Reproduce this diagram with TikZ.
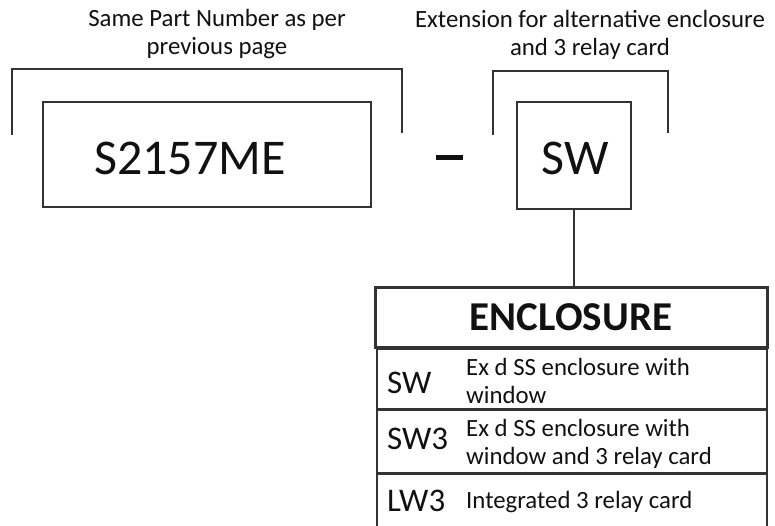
\documentclass[tikz,border=0pt]{standalone}
\usepackage{fontspec}
\setmainfont{Carlito}
\definecolor{ink}{HTML}{111111}
\definecolor{edge}{HTML}{333333}
\begin{document}
\begin{tikzpicture}[x=1pt,y=-1pt,
  ln/.style={draw=edge, line width=2pt},
  box/.style={draw=edge, line width=2pt, inner sep=0pt},
  hdr/.style={draw=edge, line width=3pt, inner sep=0pt},
  rowbox/.style={draw=edge, line width=2.5pt, inner sep=0pt},
  ttl/.style={font=\fontsize{24.8}{28}\selectfont, text=ink, align=center, inner sep=0pt},
  big/.style={font=\fontsize{50}{56}\selectfont, text=ink, inner sep=0pt},
  code/.style={font=\fontsize{33}{36}\selectfont, text=ink, anchor=west, inner sep=0pt},
  desc/.style={font=\fontsize{24.8}{28}\selectfont, text=ink, anchor=west, align=left, inner sep=0pt}]
\useasboundingbox (0,0) rectangle (775,526);
\clip (0,0) rectangle (775,526);
% titles
\node[ttl] (t1) at (217,34) {Same Part Number as per\\previous page};
\node[ttl] (t2) at (590,35) {Extension for alternative enclosure\\and 3 relay card};
% brackets
\coordinate (b1a) at (12,135); \coordinate (b1b) at (12,69);
\coordinate (b1c) at (402,69); \coordinate (b1d) at (402,133);
\draw[ln] (b1a) -- (b1b) -- (b1c) -- (b1d);
\coordinate (b2a) at (493,135); \coordinate (b2b) at (493,71);
\coordinate (b2c) at (668,71); \coordinate (b2d) at (668,133);
\draw[ln] (b2a) -- (b2b) -- (b2c) -- (b2d);
% part number box
\node[box, minimum width=328pt, minimum height=105pt] (pn) at (207,154.5) {};
\node[big] (pntext) at (190,158) {S2157ME};
% dash
\node[fill=ink, minimum width=27pt, minimum height=5pt, inner sep=0pt] (dash) at (449.5,158) {};
% SW box
\node[box, minimum width=114pt, minimum height=107pt] (sw) at (574,155.5) {};
\node[big] (swtext) at (575,158) {SW};
% enclosure header
\node[hdr, minimum width=392pt, minimum height=60pt, font=\fontsize{41}{46}\selectfont\bfseries, text=ink] (enc) at (571,317) {ENCLOSURE};
\draw[ln] (sw.south) -- (sw.south |- enc.north);
% rows
\node[rowbox, minimum width=390pt, minimum height=60pt] (r1) at (572,379) {};
\node[rowbox, minimum width=390pt, minimum height=63pt] (r2) at (572,441.5) {};
\node[rowbox, minimum width=390pt, minimum height=70pt] (r3) at (572,509) {};
\node[code] (c1) at (387,383) {SW};
\node[code] (c2) at (387,439) {SW3};
\node[code] (c3) at (387,501) {LW3};
\node[desc] (d1) at (466,381) {Ex d SS enclosure with\\window};
\node[desc] (d2) at (466,444) {Ex d SS enclosure with\\window and 3 relay card};
\node[desc] (d3) at (466,502) {Integrated 3 relay card};
\end{tikzpicture}
\end{document}
